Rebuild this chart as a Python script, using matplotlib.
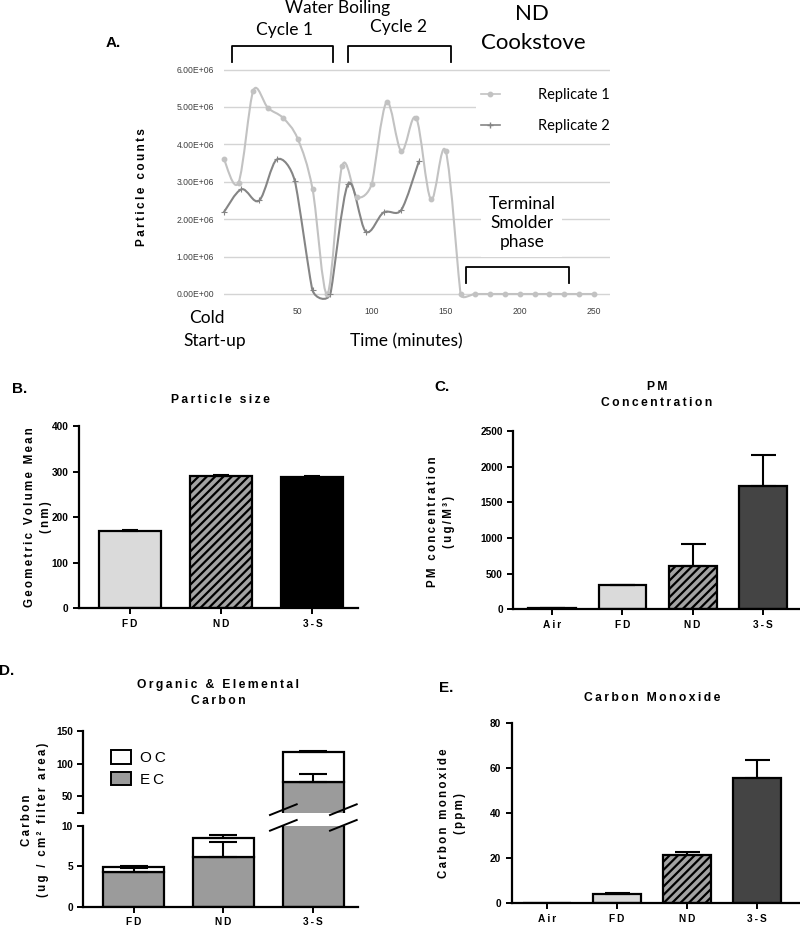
import numpy as np
import matplotlib
matplotlib.use('Agg')
import matplotlib.pyplot as plt
from matplotlib.path import Path
from matplotlib.patches import PathPatch
from matplotlib.lines import Line2D

W, H = 800, 927

# ---- panel A : particle counts (x1e6) vs time (minutes)
rep1_time = [0, 10, 20, 30, 40, 50, 60, 70, 80, 90, 100, 110, 120, 130, 140, 150,
             160, 170, 180, 190, 200, 210, 220, 230, 240, 250]
rep1_counts = [3.62, 2.98, 5.44, 4.97, 4.71, 4.15, 2.81, 0.0, 3.42, 2.60, 2.94, 5.13,
               3.82, 4.71, 2.53, 3.82, 0.0, 0.0, 0.0, 0.0, 0.0, 0.0, 0.0, 0.0, 0.0, 0.0]
rep2_time = [0, 12, 24, 36, 48, 60, 72, 84, 96, 108, 120, 132]
rep2_counts = [2.18, 2.80, 2.50, 3.60, 3.03, 0.10, 0.0, 2.94, 1.67, 2.18, 2.25, 3.56]

# ---- panels B-E
groups3 = ['FD', 'ND', '3-S']
groups4 = ['Air', 'FD', 'ND', '3-S']
size_mean = [170, 290, 289]
size_err = [2, 1.5, 1.5]
pm_mean = [15, 335, 612, 1734]
pm_err = [8, 10, 304, 434]
ec_mean = [4.3, 6.2, 72.0]
ec_err = [0.45, 1.8, 12.6]
oc_mean = [0.6, 2.3, 45.3]
oc_err = [0.2, 0.4, 2.5]
co_mean = [0, 4.15, 21.5, 55.9]
co_err = [0, 0.5, 1.3, 7.8]

ARIAL = ['Liberation Sans', 'DejaVu Sans']
CALIBRI = ['Lato', 'DejaVu Sans']
plt.rcParams['font.family'] = ARIAL
plt.rcParams['hatch.linewidth'] = 1.6

LIGHT = '#dadada'
MID = '#a3a3a3'
DARK = '#444444'


def sp(s):
    return '\u2009'.join(s)


fig = plt.figure(figsize=(W / 100, H / 100), dpi=100)


def px_axes(left, top, right, bottom):
    return fig.add_axes([left / W, 1 - bottom / H, (right - left) / W, (bottom - top) / H])


def ftext(x, y, s, **kw):
    kw.setdefault('ha', 'center')
    kw.setdefault('va', 'center')
    return fig.text(x / W, 1 - y / H, s, **kw)


def smooth_path(x, y, sx, sy):
    # excel-like bezier smoothing; sx, sy = pixels per data unit
    x = np.asarray(x, float)
    y = np.asarray(y, float)
    px, py = x * sx, y * sy
    n = len(x)

    def dist(i, j):
        return np.hypot(px[i] - px[j], py[i] - py[j])

    tang = []
    for i in range(n):
        a = max(i - 1, 0)
        b = min(i + 1, n - 1)
        tx, ty = px[b] - px[a], py[b] - py[a]
        L = np.hypot(tx, ty)
        if L == 0:
            tang.append((0.0, 0.0))
            continue
        off = L / 6
        lim = min(dist(i, a) if a != i else 1e9, dist(i, b) if b != i else 1e9) / 2
        off = min(off, lim)
        tang.append((tx / L * off / sx, ty / L * off / sy))
    verts = [(x[0], y[0])]
    codes = [Path.MOVETO]
    for i in range(n - 1):
        verts += [(x[i] + tang[i][0], y[i] + tang[i][1]),
                  (x[i + 1] - tang[i + 1][0], y[i + 1] - tang[i + 1][1]),
                  (x[i + 1], y[i + 1])]
        codes += [Path.CURVE4] * 3
    return Path(verts, codes)


def style_prism(ax):
    for s in ['top', 'right']:
        ax.spines[s].set_visible(False)
    for s in ['left', 'bottom']:
        ax.spines[s].set_linewidth(1.6)
    ax.tick_params(width=1.4, length=4, labelsize=7.3)
    for lab in ax.get_yticklabels() + ax.get_xticklabels():
        lab.set_fontweight('bold')


def up_err(ax, x, y, e, cap=8):
    ax.errorbar(x, y, yerr=[np.zeros(len(e)), e], fmt='none', ecolor='k',
                elinewidth=1.5, capsize=cap, capthick=1.5)


# =================== panel A
axA = px_axes(223.7, 294 - 6.2 * 37.4, 610, 294 + 0.3 * 37.4)
axA.set_xlim(0, 261)
axA.set_ylim(-0.3, 6.2)
for v in range(7):
    axA.axhline(v, color='#d4d4d4', lw=1, zorder=0)
for s in axA.spines.values():
    s.set_visible(False)
c1, c2 = '#c2c2c2', '#858585'
sx, sy = 386.3 / 261, 37.4
axA.add_patch(PathPatch(smooth_path(rep1_time, rep1_counts, sx, sy), fc='none', ec=c1, lw=1.5,
                        clip_on=False, zorder=2))
axA.add_patch(PathPatch(smooth_path(rep2_time, rep2_counts, sx, sy), fc='none', ec=c2, lw=1.5,
                        clip_on=False, zorder=2))
axA.plot(rep1_time, rep1_counts, 'o', color=c1, ms=3.2, clip_on=False, zorder=3)
axA.plot(rep2_time, rep2_counts, '+', color=c2, ms=4, mew=0.8, clip_on=False, zorder=3)
axA.set_yticks(range(7))
axA.set_yticklabels(['%.2E' % (v * 1e6) for v in range(7)])
axA.set_xticks([50, 100, 150, 200, 250])
axA.tick_params(length=0, labelsize=6.2, labelcolor='#404040', pad=7)
axA.tick_params(axis='x', pad=1)
leg = axA.legend([Line2D([], [], color=c1, marker='o', ms=3.2, lw=1.2),
                  Line2D([], [], color=c2, marker='+', ms=4, lw=1.2)],
                 ['Replicate 1', 'Replicate 2'], loc='upper left',
                 bbox_to_anchor=(0.635, 0.94), frameon=True, fancybox=False,
                 prop={'family': CALIBRI, 'size': 10.5}, handlelength=1.3,
                 handletextpad=2.6, labelspacing=1.15, borderpad=0.3)
leg.get_frame().set_edgecolor('none')
leg.get_frame().set_alpha(1)


def bracket(ax, x0, x1, ytop, ybot):
    ax.plot([x0, x0, x1, x1], [ybot, ytop, ytop, ybot], color='k', lw=1.3, clip_on=False)


bracket(axA, 5.6, 73.9, 6.62, 6.2)
bracket(axA, 84, 153.6, 6.62, 6.2)
bracket(axA, 164, 233.5, 0.73, 0.29)

ftext(338, 8, 'Water Boiling', family=CALIBRI, fontsize=12.5)
ftext(285, 30, 'Cycle 1', family=CALIBRI, fontsize=12.5)
ftext(398, 27, 'Cycle 2', family=CALIBRI, fontsize=12.5)
ftext(532, 14, 'ND', family=CALIBRI, fontsize=16)
ftext(533, 43, 'Cookstove', family=CALIBRI, fontsize=16)
ftext(521.7, 223, 'Terminal\nSmolder\nphase', family=CALIBRI, fontsize=12.5,
      linespacing=1.25, bbox=dict(fc='white', ec='none', pad=5))
ftext(206.7, 318, 'Cold', family=CALIBRI, fontsize=12.5)
ftext(215, 341, 'Start-up', family=CALIBRI, fontsize=12.5)
ftext(406.7, 341, 'Time (minutes)', family=CALIBRI, fontsize=12.5)
ftext(141.7, 186.7, sp('Particle counts'), rotation=90, fontsize=8.5, fontweight='bold')
ftext(113, 43, 'A.', fontsize=11, fontweight='bold')

# =================== panel B
axB = px_axes(79, 426, 358, 608.3)
xb = np.arange(3)
axB.bar(xb, size_mean, width=0.68, color=[LIGHT, MID, 'black'], edgecolor='k',
        linewidth=1.6, hatch=['', '////', ''])
up_err(axB, xb, size_mean, size_err, cap=6)
axB.set_xlim(-0.56, 2.5)
axB.set_ylim(0, 400)
axB.set_yticks([0, 100, 200, 300, 400])
axB.set_xticks(xb)
axB.set_xticklabels([sp(g) for g in groups3])
style_prism(axB)
ftext(220, 400, sp('Particle size'), fontsize=8.7, fontweight='bold')
ftext(38, 517, sp('Geometric Volume Mean') + '\n' + sp('(nm)'), rotation=90,
      fontsize=8.3, fontweight='bold', linespacing=1.4)
ftext(20, 389, 'B.', fontsize=11, fontweight='bold')

# =================== panel C
axC = px_axes(513.3, 431, 800, 609.3)
x4 = np.arange(4)
axC.bar(x4, pm_mean, width=0.68, color=['white', LIGHT, MID, DARK], edgecolor='k',
        linewidth=1.6, hatch=['', '', '////', ''])
up_err(axC, x4, pm_mean, pm_err, cap=9)
axC.set_xlim(-0.556, 3.53)
axC.set_ylim(0, 2500)
axC.set_yticks(range(0, 2501, 500))
axC.set_xticks(x4)
axC.set_xticklabels([sp(g) for g in groups4])
style_prism(axC)
ftext(657, 395, sp('PM') + '\n' + sp('Concentration'), fontsize=8.7,
      fontweight='bold', linespacing=1.5)
ftext(441, 522, sp('PM concentration') + '\n' + sp('(ug/M³)'), rotation=90,
      fontsize=8.3, fontweight='bold', linespacing=1.4)
ftext(442, 387, 'C.', fontsize=11, fontweight='bold')

# =================== panel D (broken axis)
axDt = px_axes(83.3, 731, 358.3, 812.7)
axDb = px_axes(83.3, 826, 358.3, 906.7)
for ax in (axDt, axDb):
    ax.bar(xb, ec_mean, width=0.68, color='#9b9b9b', edgecolor='k', linewidth=1.6)
    ax.bar(xb, oc_mean, bottom=ec_mean, width=0.68, color='white', edgecolor='k', linewidth=1.6)
    up_err(ax, xb, ec_mean, ec_err, cap=10)
    up_err(ax, xb, np.add(ec_mean, oc_mean), oc_err, cap=10)
    ax.set_xlim(-0.56, 2.5)
axDt.set_ylim(25, 150)
axDb.set_ylim(0, 10)
style_prism(axDt)
style_prism(axDb)
axDt.spines['bottom'].set_visible(False)
axDt.set_xticks([])
axDt.set_yticks([25, 50, 100, 150])
axDt.set_yticklabels(['', '50', '100', '150'])
for lab in axDt.get_yticklabels():
    lab.set_fontweight('bold')
axDb.set_yticks([0, 5, 10])
axDb.set_xticks(xb)
axDb.set_xticklabels([sp(g) for g in groups3])
for lab in axDb.get_yticklabels() + axDb.get_xticklabels():
    lab.set_fontweight('bold')
# break marks
for xs in (270, 330):
    for yy in (815, 830.7):
        fig.add_artist(Line2D([xs / W, (xs + 26.7) / W], [1 - yy / H, 1 - (yy - 10.7) / H],
                              color='k', lw=1.4))
axDt.legend([plt.Rectangle((0, 0), 1, 1, fc='white', ec='k', lw=1.4),
             plt.Rectangle((0, 0), 1, 1, fc='#9b9b9b', ec='k', lw=1.4)],
            [sp('OC'), sp('EC')], loc='upper left', bbox_to_anchor=(0.05, 0.93),
            frameon=False, fontsize=11, handlelength=1.3, handleheight=0.95,
            handletextpad=0.6, labelspacing=0.45)
ftext(218, 693, sp('Organic & Elemental') + '\n' + sp('Carbon'), fontsize=8.7,
      fontweight='bold', linespacing=1.5)
ftext(35, 820, sp('Carbon') + '\n' + sp('(ug / cm² filter area)'), rotation=90,
      fontsize=8.3, fontweight='bold', linespacing=1.4)
ftext(7, 671, 'D.', fontsize=11, fontweight='bold')

# =================== panel E
axE = px_axes(511.7, 723.3, 800, 903.3)
axE.bar(x4, co_mean, width=0.68, color=['white', LIGHT, MID, DARK], edgecolor='k',
        linewidth=1.6, hatch=['', '', '////', ''])
up_err(axE, x4[1:], co_mean[1:], co_err[1:], cap=9)
axE.set_xlim(-0.5, 3.61)
axE.set_ylim(0, 80)
axE.set_yticks(range(0, 81, 20))
axE.set_xticks(x4)
axE.set_xticklabels([sp(g) for g in groups4])
style_prism(axE)
ftext(652, 698, sp('Carbon Monoxide'), fontsize=8.7, fontweight='bold')
ftext(452, 813, sp('Carbon monoxide') + '\n' + sp('(ppm)'), rotation=90,
      fontsize=8.3, fontweight='bold', linespacing=1.4)
ftext(446, 688, 'E.', fontsize=11, fontweight='bold')

fig.savefig('out.png', dpi=100)
